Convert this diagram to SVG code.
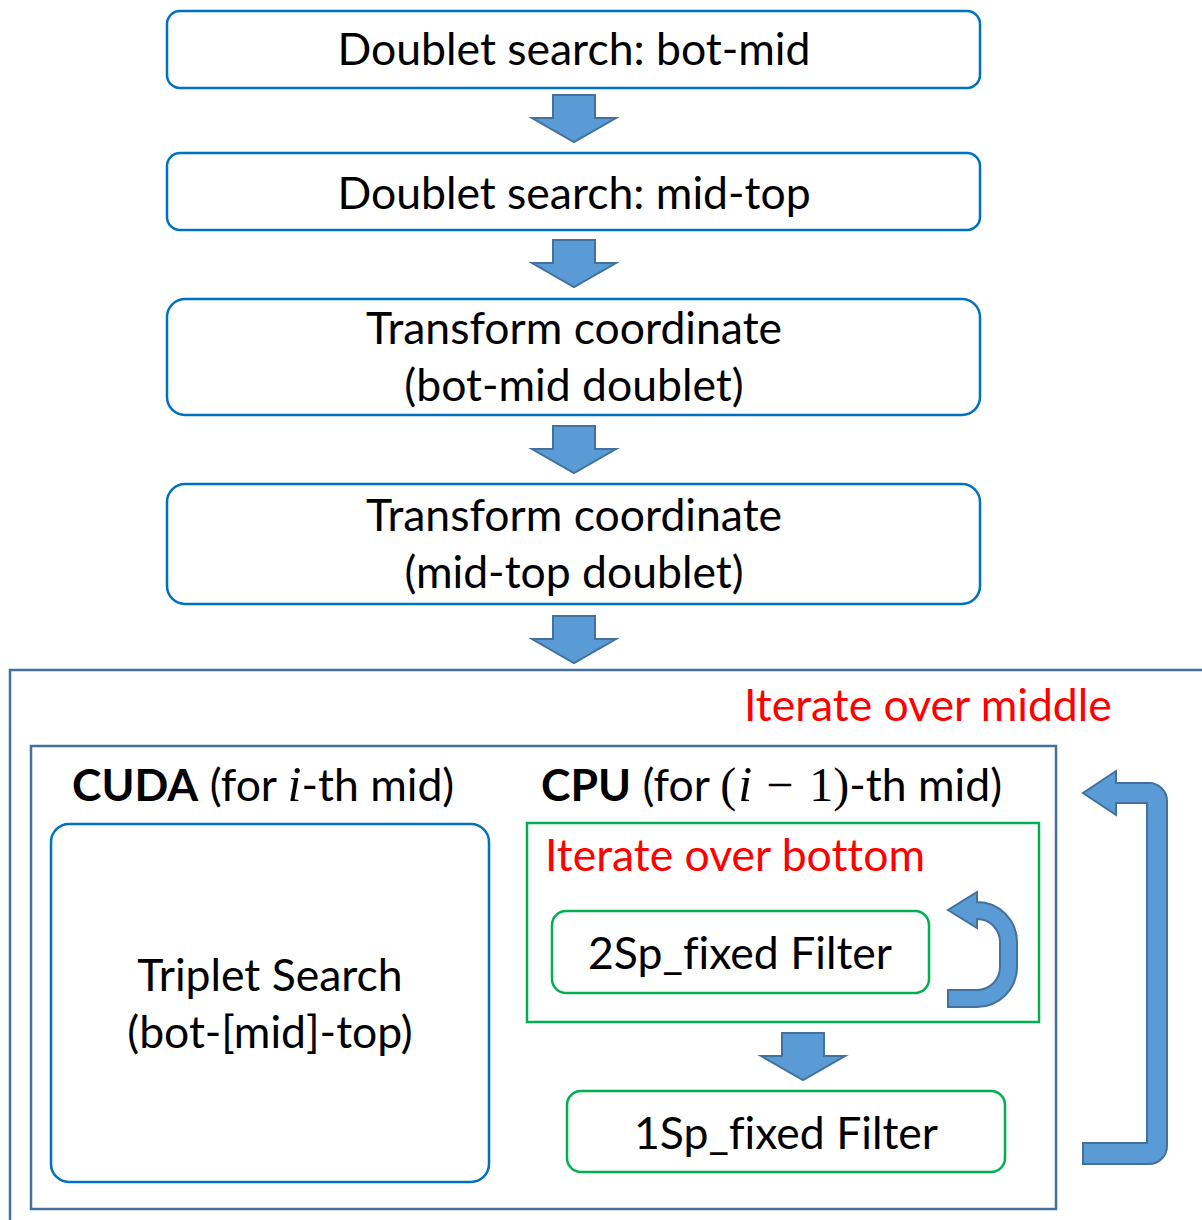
<svg xmlns="http://www.w3.org/2000/svg" xmlns:xlink="http://www.w3.org/1999/xlink" width="1202" height="1220" viewBox="0 0 1202 1220">
<style>
.bbox{fill:#fff;stroke:#0070C0;stroke-width:2.5}
.gbox{fill:#fff;stroke:#00B050;stroke-width:2.5}
.frame{fill:none;stroke:#41719C;stroke-width:2.5}
.arr{fill:#5B9BD5;stroke:#41719C;stroke-width:2}
.t{font-family:Lato,"Liberation Sans",sans-serif;font-size:44.5px;fill:#000;font-variant-ligatures:none;font-feature-settings:"liga" 0}
.c{text-anchor:middle}
.red{fill:#FF0000}
.b{font-weight:bold}
.m{font-family:"Liberation Serif","DejaVu Serif",serif;font-style:italic;font-size:50px}
.mu{font-family:"Liberation Serif","DejaVu Serif",serif;font-size:48px}
</style>
<defs>
<path id="down" d="M-21,0 H21 V23 H42 L0,47 L-42,23 H-21 Z"/>
</defs>
<rect width="1202" height="1220" fill="#fff"/>
<g id="outer-frame"><rect class="frame" x="10" y="670" width="1210" height="570"/></g>
<g id="inner-frame"><rect class="frame" x="31" y="746" width="1025" height="463"/></g>
<g id="label-iter-middle"><text class="t red" x="744" y="721">Iterate over middle</text></g>

<g id="n1"><rect class="bbox" x="167" y="11" width="813" height="77" rx="13"/><text class="t c" x="574" y="65">Doublet search: bot-mid</text></g>
<g id="n2"><rect class="bbox" x="167" y="153" width="813" height="77" rx="13"/><text class="t c" x="574" y="209">Doublet search: mid-top</text></g>
<g id="n3"><rect class="bbox" x="167" y="299" width="813" height="116" rx="18"/><text class="t c" x="574" y="344">Transform coordinate</text><text class="t c" x="574" y="401">(bot-mid doublet)</text></g>
<g id="n4"><rect class="bbox" x="167" y="484" width="813" height="120" rx="18"/><text class="t c" x="574" y="531">Transform coordinate</text><text class="t c" x="574" y="588">(mid-top doublet)</text></g>

<g id="cuda-label"><text class="t" x="72" y="801"><tspan class="b">CUDA</tspan> (for <tspan class="m">i</tspan>-th mid)</text></g>
<g id="cpu-label"><text class="t" x="541" y="801"><tspan class="b">CPU</tspan> (for <tspan class="mu">(</tspan><tspan class="m" dx="2">i</tspan><tspan class="mu" dx="14">−</tspan><tspan class="mu" dx="16">1)</tspan>-th mid)</text></g>

<g id="n-triplet"><rect class="bbox" x="51" y="824" width="438" height="358" rx="18"/><text class="t c" x="270" y="991">Triplet Search</text><text class="t c" x="270" y="1048">(bot-[mid]-top)</text></g>

<g id="iter-bottom"><rect class="gbox" x="527" y="823" width="512" height="199"/><text class="t red" x="545" y="871">Iterate over bottom</text></g>
<g id="n-2sp"><rect class="gbox" x="552" y="911" width="377" height="82" rx="14"/><text class="t c" x="740" y="969">2Sp_fixed Filter</text></g>
<g id="n-1sp"><rect class="gbox" x="567" y="1091" width="438" height="81" rx="14"/><text class="t c" x="786" y="1149">1Sp_fixed Filter</text></g>

<g id="connectors">
<use href="#down" xlink:href="#down" class="arr" transform="translate(574,95)"/>
<use href="#down" xlink:href="#down" class="arr" transform="translate(574,240)"/>
<use href="#down" xlink:href="#down" class="arr" transform="translate(574,426)"/>
<use href="#down" xlink:href="#down" class="arr" transform="translate(574,616)"/>
<use href="#down" xlink:href="#down" class="arr" transform="translate(803,1033)"/>
<path class="arr" d="M948,1007 L977,1007 A40,40 0 0 0 1017,967 L1017,942 A40,40 0 0 0 977,902 L977,892 L948,910 L977,928 L977,919 A23,23 0 0 1 1000,942 L1000,967 A23,23 0 0 1 977,990 L948,990 Z"/>
<path class="arr" d="M1083,1164 L1149,1164 A18,18 0 0 0 1167,1146 L1167,801 A18,18 0 0 0 1149,783 L1116,783 L1116,771 L1083,793 L1116,815 L1116,803 L1147,803 L1147,1143 L1083,1143 Z"/>
</g>
</svg>
